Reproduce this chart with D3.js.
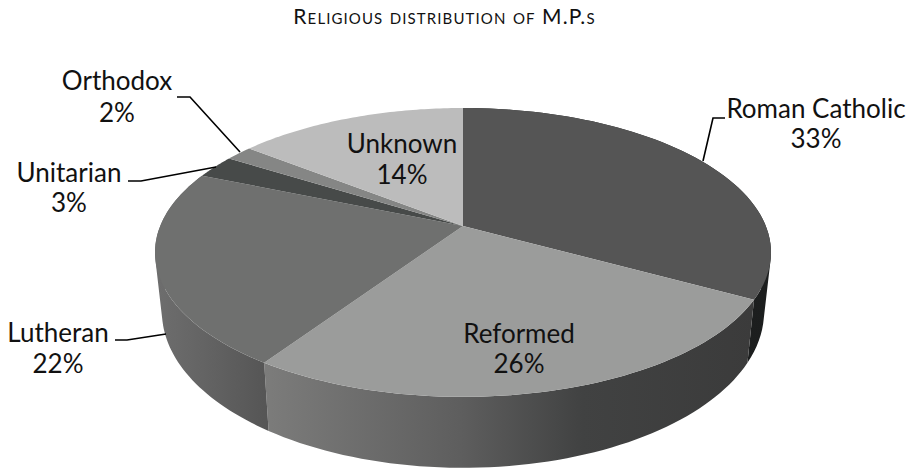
<!DOCTYPE html>
<html><head><meta charset="utf-8">
<script src="https://cdn.jsdelivr.net/npm/d3@7"></script>
<style>html,body{margin:0;background:#fff}svg{display:block}text{font-family:Lato,sans-serif;fill:#111}</style>
</head><body><svg id="c" width="913" height="469"></svg>
<script>
const categories = ["Roman Catholic","Reformed","Lutheran","Unitarian","Orthodox","Unknown"];
const values = [33,26.4,21.9,2.6,1.7,14.4];
const topColors = ["#555555","#9b9c9b","#6f706f","#474a49","#858685","#bcbcbc"];
const wallStops = [
  [["0%","#232525"],["100%","#1c1e1e"]],
  [["0%","#7c7c7b"],["40%","#5e5e5e"],["65%","#414242"],["100%","#3b3b3b"]],
  [["0%","#6e6e6e"],["50%","#626262"],["100%","#555555"]]
];
const title = "Religious distribution of M.P.s";

const svg = d3.select("#c");
const cx = 463, k = 0.183;
const topFace = {a:302.8, b:139.6, c:226};
const baseFace = {a:296, b:151, c:283};
const project = (f,t) => {
  const x = Math.sin(t), y = -Math.cos(t), w = 1 - k*y;
  return [cx + f.a*x/w, f.c + f.b*y/w];
};
const arcs = d3.pie().sort(null).value(d=>d)(values);
const samples = (a) => d3.range(0,61).map(i => a.startAngle + (a.endAngle-a.startAngle)*i/60);
const line = d3.line();

const defs = svg.append("defs");
arcs.slice(0,3).forEach((a,i)=>{
  const xs = samples(a).map(t=>project(topFace,t)[0]).concat(samples(a).map(t=>project(baseFace,t)[0]));
  const g = defs.append("linearGradient").attr("id","w"+i).attr("gradientUnits","userSpaceOnUse")
    .attr("x1", d3.min(xs)).attr("x2", d3.max(xs)).attr("y1",0).attr("y2",0);
  wallStops[i].forEach(s=>g.append("stop").attr("offset",s[0]).attr("stop-color",s[1]));
});

// walls: a strip of same-orientation quads, so the silhouette between the faces is filled
const wallPath = a => {
  const s = samples(a);
  return d3.pairs(s).map(([t0,t1])=>{
    const q = [project(topFace,t0),project(topFace,t1),project(baseFace,t1),project(baseFace,t0)];
    if (d3.polygonArea(q) < 0) q.reverse();
    return line(q)+"Z";
  }).join("");
};
svg.append("g").selectAll("path").data(arcs.slice(0,3)).join("path")
  .attr("d",wallPath)
  .attr("fill",(a,i)=>`url(#w${i})`);

// top face
svg.append("g").selectAll("path").data(arcs).join("path")
  .attr("d",a=>line([[cx,topFace.c]].concat(samples(a).map(t=>project(topFace,t))))+"Z")
  .attr("fill",(a,i)=>topColors[i]);

// labels
const labelLayout = [[816,118,148],[519,343,373],[58,342,373],[69,182,212],[117,90,122],[402,153,184]];
const lab = svg.append("g").attr("text-anchor","middle").style("font-size","26px");
categories.forEach((c,i)=>{
  const p = labelLayout[i];
  lab.append("text").attr("x",p[0]).attr("y",p[1]).text(c);
  lab.append("text").attr("x",p[0]).attr("y",p[2]).text(d3.format(".0f")(values[i])+"%");
});

// leaders
const leaders = [
  [[725,118],[713,118],[703,161]],
  [[115,340],[127,340],[166,334]],
  [[128,181],[141,181],[216,167]],
  [[177,97],[190,97],[240,152]]
];
svg.append("g").selectAll("path").data(leaders).join("path")
  .attr("d",line).attr("fill","none").attr("stroke","#000").attr("stroke-width",1.6);

svg.append("text").attr("x",444.5).attr("y",24).attr("text-anchor","middle")
  .style("font-size","21px").style("letter-spacing","1.1px").style("font-variant","small-caps").text(title);
</script></body></html>
